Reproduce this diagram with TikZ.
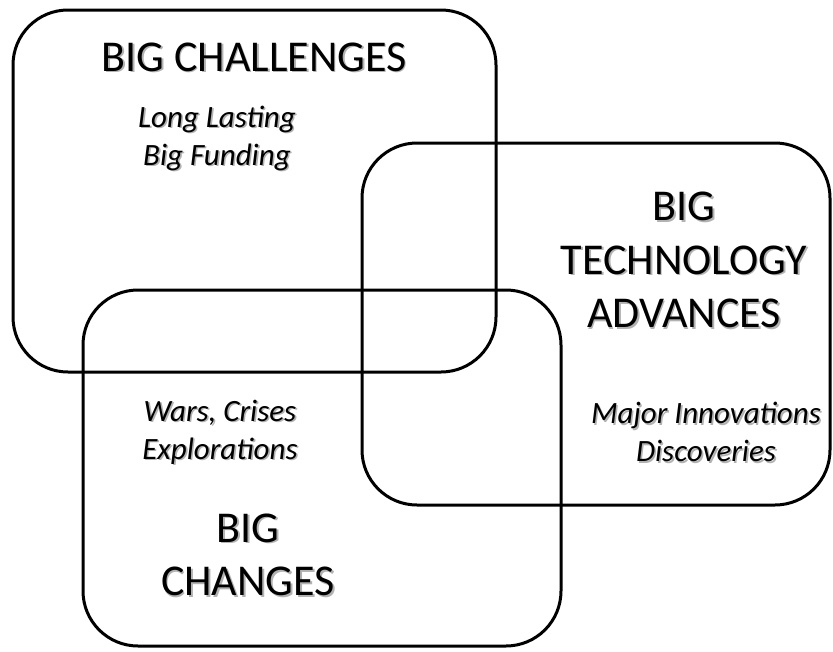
\documentclass[tikz,border=0pt]{standalone}
\usepackage{fontspec}
\setmainfont{Carlito}
\usepackage{tikz}

\tikzset{
  area/.style={draw=black, line width=3pt, rounded corners=55pt},
  head/.style={font=\fontsize{44}{53.5}\selectfont, align=center, inner sep=0pt},
  note/.style={font=\itshape\fontsize{31}{38}\selectfont, align=center, inner sep=0pt},
  drop/.style={text=black!30, xshift=1.6pt, yshift=-1.6pt}
}

\begin{document}
\begin{tikzpicture}[x=1pt, y=-1pt]
  \useasboundingbox (0,0) rectangle (833,651);

  % the three overlapping areas
  \draw[area] (13,10) rectangle (496,372);
  \draw[area] (362,143) rectangle (830,505);
  \draw[area] (83,290) rectangle (561,646);

  % soft shadows under the texts
  \node[head, drop] (challenges-s) at (254,57) {BIG CHALLENGES};
  \node[note, drop] (funding-s) at (217,138) {Long Lasting\\Big Funding};
  \node[head, drop] (tech-s) at (684,260) {BIG\\TECHNOLOGY\\ADVANCES};
  \node[note, drop] (innov-s) at (706,432) {Major Innovations\\Discoveries};
  \node[note, drop] (wars-s) at (220,432) {Wars, Crises\\Explorations};
  \node[head, drop] (changes-s) at (248,555) {BIG\\CHANGES};

  % texts
  \node[head] (challenges) at (254,57) {BIG CHALLENGES};
  \node[note] (funding) at (217,138) {Long Lasting\\Big Funding};
  \node[head] (tech) at (684,260) {BIG\\TECHNOLOGY\\ADVANCES};
  \node[note] (innov) at (706,432) {Major Innovations\\Discoveries};
  \node[note] (wars) at (220,432) {Wars, Crises\\Explorations};
  \node[head] (changes) at (248,555) {BIG\\CHANGES};
\end{tikzpicture}
\end{document}
